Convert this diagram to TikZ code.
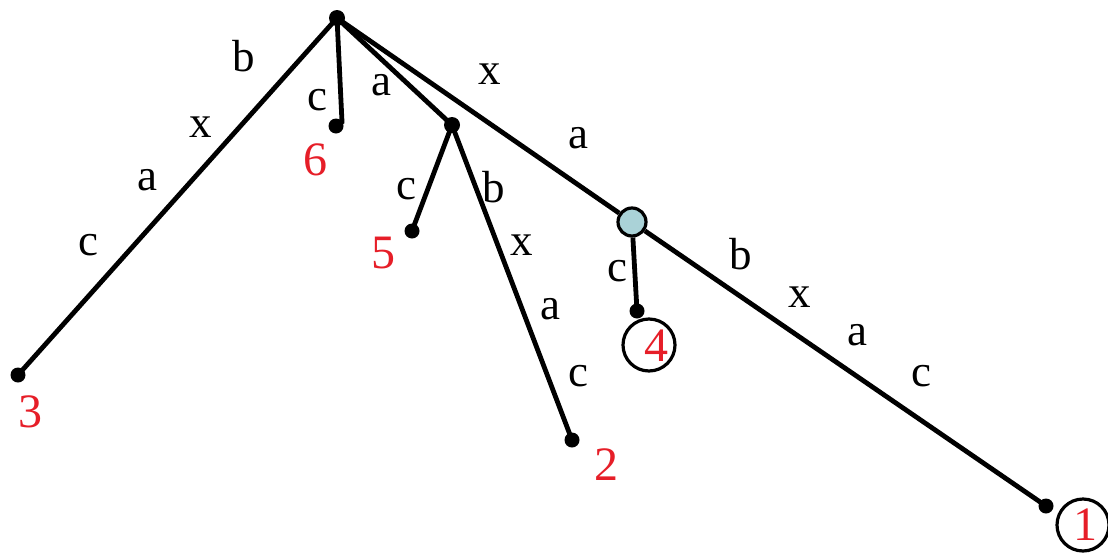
\documentclass[tikz,border=0pt]{standalone}
\usepackage{fontspec}
\setmainfont{Liberation Serif}
\definecolor{numred}{RGB}{230,30,40}
\definecolor{nodeblue}{RGB}{170,210,215}
\begin{document}
\begin{tikzpicture}[x=1pt,y=-1pt,
  edge/.style={line width=4.8pt},
  leaf/.style={circle,fill=black,inner sep=0pt,minimum size=15pt},
  inner/.style={circle,fill=black,inner sep=0pt,minimum size=16pt},
  bluenode/.style={circle,draw=black,line width=3.2pt,fill=nodeblue,inner sep=0pt,minimum size=28pt},
  lbl/.style={font=\fontsize{45}{50}\selectfont,inner sep=0pt},
  num/.style={font=\fontsize{48}{52}\selectfont,text=numred,inner sep=0pt},
  ring/.style={circle,draw=black,line width=3.2pt,inner sep=0pt,minimum size=52pt}]
\useasboundingbox (0,0) rectangle (1108,552);
% nodes
\node[inner] (root) at (337,18) {};
\node[leaf] (l3) at (18,375) {};
\node[leaf] (l6) at (336,126) {};
\coordinate (b6) at (342,122);
\node[inner] (n1) at (452,125) {};
\node[leaf] (l5) at (412,231) {};
\node[leaf] (l2) at (572,440) {};
\node[bluenode] (bn) at (632,222) {};
\node[leaf] (l4) at (637,311) {};
\node[leaf] (l1) at (1046,506) {};
% edges
\draw[edge] (root.center) -- (l3.center);
\draw[edge] (root.center) -- (b6) -- (l6.center);
\draw[edge] (root.center) -- (n1.center);
\draw[edge] (n1.center) -- (l5.center);
\draw[edge] (n1.center) -- (l2.center);
\draw[edge] (root.center) -- (bn);
\draw[edge] (bn) -- (l4.center);
\draw[edge] (bn) -- (l1.center);
% edge labels
\node[lbl] (e3b) at (244,56) {b};
\node[lbl] (e3x) at (201,127) {x};
\node[lbl] (e3a) at (147,180) {a};
\node[lbl] (e3c) at (88,245) {c};
\node[lbl] (e6c) at (317,100) {c};
\node[lbl] (e1a) at (381,85) {a};
\node[lbl] (e5c) at (406,189) {c};
\node[lbl] (e2b) at (494,187) {b};
\node[lbl] (e2x) at (522,245) {x};
\node[lbl] (e2a) at (550,309) {a};
\node[lbl] (e2c) at (578,376) {c};
\node[lbl] (ebx) at (490,74) {x};
\node[lbl] (eba) at (578,138) {a};
\node[lbl] (e4c) at (617,271) {c};
\node[lbl] (e1b) at (741,254) {b};
\node[lbl] (e1x) at (800,297) {x};
\node[lbl] (e1aa) at (857,335) {a};
\node[lbl] (e1c) at (921,376) {c};
% leaf numbers
\node[num] (t3) at (30,412) {3};
\node[num] (t6) at (315,160) {6};
\node[num] (t5) at (383,253) {5};
\node[num] (t2) at (606,465) {2};
\node[ring] (r4) at (649,345) {};
\node[num] (t4) at (656,346) {4};
\node[ring] (r1) at (1083,525) {};
\node[num] (t1) at (1085,525) {1};
\end{tikzpicture}
\end{document}
